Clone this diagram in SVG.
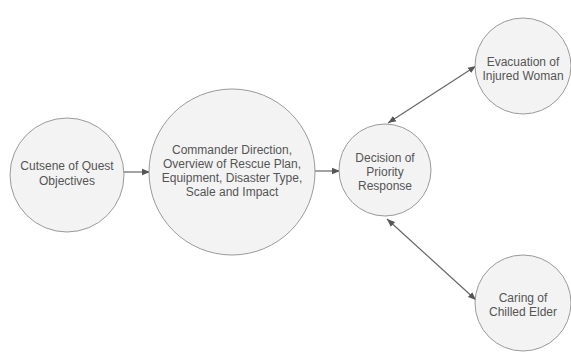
<svg xmlns="http://www.w3.org/2000/svg" width="571" height="352" viewBox="0 0 571 352">
<style>
.node{fill:#f3f3f3;stroke:#9a9a9a;stroke-width:1}
.t{font-family:"Liberation Sans",Arial,sans-serif;font-size:12px;fill:#555;text-anchor:middle}
.c{stroke:#666;stroke-width:1.2;fill:none}
</style>
<defs>
<marker id="ah" viewBox="0 0 10 10" refX="10" refY="5" markerWidth="8" markerHeight="8" orient="auto-start-reverse" markerUnits="userSpaceOnUse">
<path d="M0,1 L10,5 L0,9 Z" fill="#555"/>
</marker>
</defs>
<rect width="571" height="352" fill="#fff"/>
<g id="connectors">
<line class="c" x1="124" y1="172" x2="150" y2="172" marker-end="url(#ah)"/>
<line class="c" x1="315" y1="171" x2="340" y2="171" marker-end="url(#ah)"/>
<line class="c" x1="388" y1="123" x2="476" y2="66" marker-start="url(#ah)" marker-end="url(#ah)"/>
<line class="c" x1="387" y1="219" x2="476" y2="300" marker-start="url(#ah)" marker-end="url(#ah)"/>
</g>
<g id="n1">
<circle class="node" cx="67" cy="175" r="57"/>
<text class="t" x="67" y="170">Cutsene of Quest</text>
<text class="t" x="67" y="185">Objectives</text>
</g>
<g id="n2">
<circle class="node" cx="232" cy="172" r="83"/>
<text class="t" x="232" y="154">Commander Direction,</text>
<text class="t" x="232" y="168">Overview of Rescue Plan,</text>
<text class="t" x="232" y="182">Equipment, Disaster Type,</text>
<text class="t" x="232" y="196">Scale and Impact</text>
</g>
<g id="n3">
<circle class="node" cx="385" cy="170" r="46"/>
<text class="t" x="385" y="162">Decision of</text>
<text class="t" x="385" y="176">Priority</text>
<text class="t" x="385" y="190">Response</text>
</g>
<g id="n4">
<circle class="node" cx="523" cy="66" r="48"/>
<text class="t" x="523" y="66">Evacuation of</text>
<text class="t" x="523" y="80">Injured Woman</text>
</g>
<g id="n5">
<circle class="node" cx="523" cy="303" r="48"/>
<text class="t" x="523" y="302">Caring of</text>
<text class="t" x="523" y="316">Chilled Elder</text>
</g>
</svg>
